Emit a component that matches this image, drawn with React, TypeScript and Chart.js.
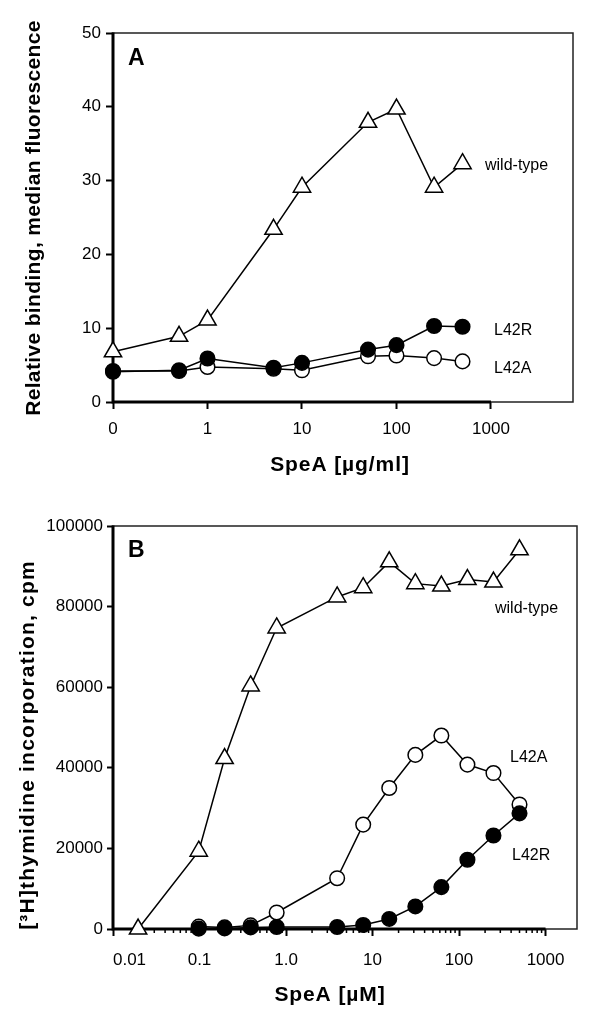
import { useEffect, useRef } from 'react';
import { Chart, registerables } from 'chart.js';

Chart.register(...registerables);

// ---------------- Panel A: binding (median fluorescence) ----------------
const A_DOSE = [0, 0.5, 1, 5, 10, 50, 100, 250, 500]; // SpeA µg/ml ("0" is drawn one decade below 1)
const A_WILD_TYPE = [6.8, 8.9, 11.1, 23.4, 29.1, 37.9, 39.7, 29.1, 32.3];
const A_L42R = [4.1, 4.3, 5.9, 4.65, 5.3, 7.1, 7.7, 10.3, 10.2];
const A_L42A = [4.2, 4.2, 4.75, 4.5, 4.3, 6.2, 6.3, 5.95, 5.5];
const A_X_TICKS = [0, 1, 10, 100, 1000];
const A_Y_TICKS = [0, 10, 20, 30, 40, 50];
const A_ZERO_POS = 0.1;

// ---------------- Panel B: [3H]thymidine incorporation ----------------
const B_WT_DOSE = [0.0195, 0.098, 0.195, 0.39, 0.78, 3.9, 7.8, 15.6, 31.25, 62.5, 125, 250, 500]; // µM
const B_WILD_TYPE = [0, 19300, 42300, 60300, 74700, 82400, 84700, 91100, 85700, 85100, 86700, 86100, 94100];
const B_MUT_DOSE = [0.098, 0.195, 0.39, 0.78, 3.9, 7.8, 15.6, 31.25, 62.5, 125, 250, 500];
const B_L42A = [600, 400, 900, 4100, 12600, 25900, 35000, 43200, 48000, 40800, 38700, 30900];
const B_L42R = [100, 150, 400, 500, 500, 1000, 2500, 5600, 10400, 17200, 23200, 28700];
const B_X_TICKS = [0.01, 0.1, 1, 10, 100, 1000];
const B_X_TICK_LABELS = ['       0.01', '0.1', '1.0', '10', '100', '1000'];
const B_Y_TICKS = [0, 20000, 40000, 60000, 80000, 100000];

const SERIES_NAMES = ['wild-type', 'L42R', 'L42A'];

const FONT = '"Liberation Sans", Arial, Helvetica, sans-serif';

type Style = { shape: string; r: number; fill: string };
const TRI: Style = { shape: 'triangle', r: 10, fill: '#fff' };
const FILLED: Style = { shape: 'circle', r: 7.3, fill: '#000' };
const OPEN: Style = { shape: 'circle', r: 7.3, fill: '#fff' };

function ds(label: string, xs: number[], ys: number[], st: Style) {
  return {
    label,
    data: xs.map((x, i) => ({ x, y: ys[i] })),
    borderColor: '#000',
    borderWidth: 1.5,
    backgroundColor: st.fill,
    pointStyle: st.shape,
    pointRadius: st.r,
    pointHoverRadius: st.r,
    pointBorderWidth: 1.5,
    pointBorderColor: '#000',
    pointBackgroundColor: st.fill,
    tension: 0,
    fill: false,
    clip: false as any,
  };
}

type TextItem = { text: string; font: string; x: number; y: number; align: CanvasTextAlign; ls?: string; rot?: number };

function framePlugin(axisEnd: number, minor: boolean) {
  return {
    id: 'frameAxes',
    beforeDatasetsDraw(chart: any) {
      const { ctx, chartArea } = chart;
      const { left, right, top, bottom } = chartArea;
      const xs = chart.scales.x;
      ctx.save();
      ctx.strokeStyle = '#222';
      ctx.lineWidth = 1.5;
      ctx.strokeRect(left, top, right - left, bottom - top);
      ctx.strokeStyle = '#000';
      ctx.lineWidth = 3;
      ctx.beginPath();
      ctx.moveTo(left, top - 0.5);
      ctx.lineTo(left, bottom + 1.5);
      ctx.moveTo(left - 1.5, bottom);
      ctx.lineTo(xs.getPixelForValue(axisEnd), bottom);
      ctx.stroke();
      if (minor) {
        ctx.lineWidth = 1.5;
        ctx.beginPath();
        for (let k = -2; k < 3; k++) {
          for (let m = 2; m <= 9; m++) {
            const px = xs.getPixelForValue(m * Math.pow(10, k));
            ctx.moveTo(px, bottom);
            ctx.lineTo(px, bottom + 4);
          }
        }
        ctx.stroke();
      }
      ctx.restore();
    },
  };
}

function textPlugin(items: TextItem[]) {
  return {
    id: 'texts',
    afterDraw(chart: any) {
      const ctx = chart.ctx as CanvasRenderingContext2D;
      for (const t of items) {
        ctx.save();
        ctx.font = t.font;
        try {
          (ctx as any).letterSpacing = t.ls ?? '0px';
        } catch (e) {
          /* ignore */
        }
        ctx.fillStyle = '#000';
        ctx.textAlign = t.align;
        ctx.textBaseline = 'alphabetic';
        ctx.translate(t.x, t.y);
        if (t.rot) ctx.rotate(t.rot);
        ctx.fillText(t.text, 0, 0);
        ctx.restore();
      }
    },
  };
}

const tickFont = { family: FONT, size: 17 };

function configA(): any {
  const xVal = (d: number) => (d === 0 ? A_ZERO_POS : d);
  const xs = A_DOSE.map(xVal);
  return {
    type: 'line',
    data: {
      datasets: [
        ds(SERIES_NAMES[0], xs, A_WILD_TYPE, TRI),
        ds(SERIES_NAMES[1], xs, A_L42R, FILLED),
        ds(SERIES_NAMES[2], xs, A_L42A, OPEN),
      ],
    },
    options: {
      responsive: false,
      animation: false,
      events: [],
      layout: { padding: { left: 0, top: 33, right: 27, bottom: 0 } },
      plugins: { legend: { display: false }, tooltip: { enabled: false } },
      scales: {
        x: {
          type: 'logarithmic',
          min: 0.1,
          max: 7380,
          afterBuildTicks: (s: any) => {
            s.ticks = A_X_TICKS.map((v) => ({ value: xVal(v) }));
          },
          afterFit: (s: any) => {
            s.height = 88;
          },
          ticks: {
            autoSkip: false,
            maxRotation: 0,
            minRotation: 0,
            padding: 10,
            color: '#000',
            font: tickFont,
            major: { enabled: false },
            callback: (_v: any, i: number) => String(A_X_TICKS[i]),
          },
          grid: { drawOnChartArea: false, drawTicks: true, tickLength: 7, tickWidth: 2, tickColor: '#000' },
          border: { display: false },
        },
        y: {
          type: 'linear',
          min: 0,
          max: 50,
          afterBuildTicks: (s: any) => {
            s.ticks = A_Y_TICKS.map((v) => ({ value: v }));
          },
          afterFit: (s: any) => {
            s.width = 113;
          },
          ticks: { padding: 5, color: '#000', font: tickFont, callback: (v: any) => String(v) },
          grid: { drawOnChartArea: false, drawTicks: true, tickLength: 7, tickWidth: 2, tickColor: '#000' },
          border: { display: false },
        },
      },
    },
    plugins: [
      framePlugin(1000, false),
      textPlugin([
        { text: 'A', font: `bold 23px ${FONT}`, x: 128, y: 65, align: 'left' },
        { text: SERIES_NAMES[0], font: `16px ${FONT}`, x: 485, y: 170, align: 'left' },
        { text: SERIES_NAMES[1], font: `16px ${FONT}`, x: 494, y: 335, align: 'left' },
        { text: SERIES_NAMES[2], font: `16px ${FONT}`, x: 494, y: 373, align: 'left' },
        { text: 'SpeA [µg/ml]', font: `bold 21px ${FONT}`, ls: '0.9px', x: 340, y: 471, align: 'center' },
        {
          text: 'Relative binding, median fluorescence',
          font: `bold 21px ${FONT}`,
          ls: '0.35px',
          x: 40,
          y: 218,
          align: 'center',
          rot: -Math.PI / 2,
        },
      ]),
    ],
  };
}

function configB(): any {
  return {
    type: 'line',
    data: {
      datasets: [
        ds(SERIES_NAMES[0], B_WT_DOSE, B_WILD_TYPE, TRI),
        ds(SERIES_NAMES[1], B_MUT_DOSE, B_L42R, FILLED),
        ds(SERIES_NAMES[2], B_MUT_DOSE, B_L42A, OPEN),
      ],
    },
    options: {
      responsive: false,
      animation: false,
      events: [],
      layout: { padding: { left: 0, top: 36, right: 23, bottom: 0 } },
      plugins: { legend: { display: false }, tooltip: { enabled: false } },
      scales: {
        x: {
          type: 'logarithmic',
          min: 0.01,
          max: 2310,
          afterBuildTicks: (s: any) => {
            s.ticks = B_X_TICKS.map((v) => ({ value: v }));
          },
          afterFit: (s: any) => {
            s.height = 88;
          },
          ticks: {
            autoSkip: false,
            maxRotation: 0,
            minRotation: 0,
            padding: 14,
            color: '#000',
            font: tickFont,
            major: { enabled: false },
            callback: (_v: any, i: number) => B_X_TICK_LABELS[i],
          },
          grid: { drawOnChartArea: false, drawTicks: true, tickLength: 7, tickWidth: 2, tickColor: '#000' },
          border: { display: false },
        },
        y: {
          type: 'linear',
          min: 0,
          max: 100000,
          afterBuildTicks: (s: any) => {
            s.ticks = B_Y_TICKS.map((v) => ({ value: v }));
          },
          afterFit: (s: any) => {
            s.width = 113;
          },
          ticks: { padding: 4, color: '#000', font: tickFont, callback: (v: any) => String(v) },
          grid: { drawOnChartArea: false, drawTicks: true, tickLength: 6, tickWidth: 2, tickColor: '#000' },
          border: { display: false },
        },
      },
    },
    plugins: [
      framePlugin(1000, true),
      textPlugin([
        { text: 'B', font: `bold 23px ${FONT}`, x: 128, y: 67, align: 'left' },
        { text: SERIES_NAMES[0], font: `16px ${FONT}`, x: 495, y: 123, align: 'left' },
        { text: SERIES_NAMES[2], font: `16px ${FONT}`, x: 510, y: 272, align: 'left' },
        { text: SERIES_NAMES[1], font: `16px ${FONT}`, x: 512, y: 370, align: 'left' },
        { text: 'SpeA [µM]', font: `bold 21px ${FONT}`, ls: '0.9px', x: 330, y: 511, align: 'center' },
        {
          text: '[³H]thymidine incorporation, cpm',
          font: `bold 21px ${FONT}`,
          ls: '1.2px',
          x: 34,
          y: 255,
          align: 'center',
          rot: -Math.PI / 2,
        },
      ]),
    ],
  };
}

export default function App() {
  const refA = useRef<HTMLCanvasElement>(null);
  const refB = useRef<HTMLCanvasElement>(null);
  useEffect(() => {
    const a = new Chart(refA.current as HTMLCanvasElement, configA());
    const b = new Chart(refB.current as HTMLCanvasElement, configB());
    return () => {
      a.destroy();
      b.destroy();
    };
  }, []);
  return (
    <div style={{ position: 'absolute', left: 0, top: 0, width: 600, height: 1017, background: '#fff' }}>
      <canvas ref={refA} width={600} height={490} style={{ display: 'block', width: 600, height: 490 }} />
      <canvas ref={refB} width={600} height={527} style={{ display: 'block', width: 600, height: 527 }} />
    </div>
  );
}
